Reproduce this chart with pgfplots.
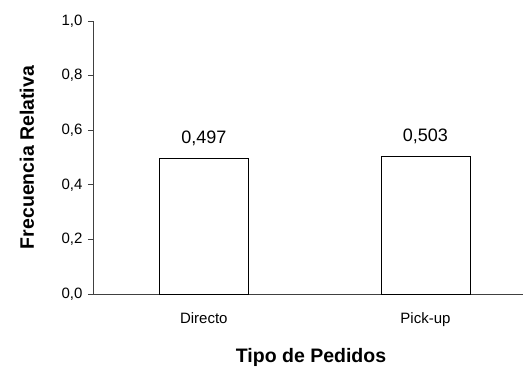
\documentclass[border=0pt]{standalone}
\usepackage{pgfplots}
\pgfplotsset{compat=1.18}
\usepackage{fontspec}
\setmainfont{Liberation Sans}
\begin{document}
\begin{tikzpicture}
\begin{axis}[
  scale only axis,
  width=430pt, height=273pt,
  xmin=0.5, xmax=2.44,
  ymin=0, ymax=1,
  axis lines*=left,
  axis line style={black!75, line width=0.9pt, -},
  ytick={0,0.2,...,1.0},
  yticklabel style={font=\fontsize{15}{15}\selectfont, xshift=-2pt, /pgf/number format/.cd, fixed, fixed zerofill, precision=1, use comma},
  /pgf/number format/assume math mode=true,
  ytick style={black!75, line width=0.9pt},
  ytick align=outside,
  major tick length=5pt,
  xtick={1,2},
  xticklabels={Directo,Pick-up},
  xtick style={draw=none},
  xticklabel style={font=\fontsize{15}{15}\selectfont, yshift=-10pt},
  extra x ticks={0.5,1.5},
  extra x tick labels={},
  extra x tick style={tick style={draw=black!75, line width=0.9pt}, tick align=outside},
  xlabel={Tipo de Pedidos},
  ylabel={Frecuencia Relativa},
  xlabel style={font=\bfseries\fontsize{19.5}{19.5}\selectfont, at={([yshift=-63pt]axis description cs:0.507,0)}, anchor=center},
  ylabel style={font=\bfseries\fontsize{19.5}{19.5}\selectfont, at={([xshift=-66pt]axis description cs:0,0.5)}, anchor=center},
  ybar, bar width=89pt,
  nodes near coords,
  nodes near coords style={font=\fontsize{18}{18}\selectfont, yshift=9pt, /pgf/number format/.cd, fixed, fixed zerofill, precision=3, use comma, assume math mode=true},
  nodes near coords align={vertical},
  clip=false,
]
\addplot[draw=black, fill=white, line width=0.9pt] coordinates {(1,0.497) (2,0.503)};
\end{axis}
\pgfresetboundingbox
\path[use as bounding box] (-93pt,-73pt) rectangle (430pt,294pt);
\end{tikzpicture}
\end{document}
